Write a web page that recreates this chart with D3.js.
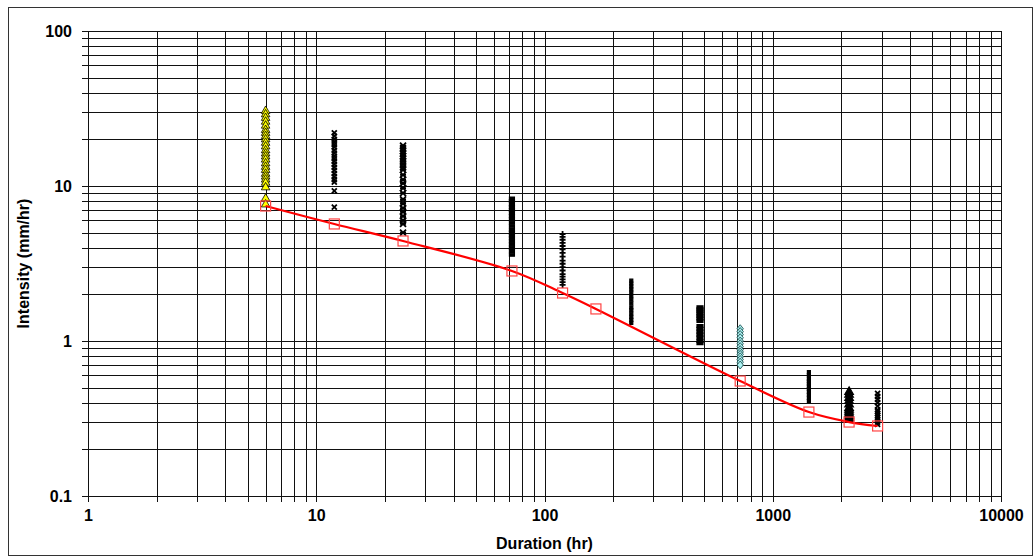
<!DOCTYPE html>
<html>
<head>
<meta charset="utf-8">
<script src="https://cdn.jsdelivr.net/npm/d3@7"></script>
<style>
  html, body { margin: 0; padding: 0; background: #fff; }
  svg { display: block; }
  text { font-family: "Liberation Sans", Arial, sans-serif; font-weight: bold; }
</style>
</head>
<body>
<svg id="chart" width="1034" height="556"></svg>
<script>
// Observed storm intensities (mm/hr) grouped by duration (hr)
const obs6    = [30.5, 29, 27.5, 26, 24.5, 23, 22, 21, 20, 19, 18, 17, 16.2, 15.5, 14.8, 14, 13.3, 12.7, 12, 11.5, 11, 10.5, 9.8, 8.3, 7.6];
const obs12   = [22, 21, 20, 19.2, 18.5, 17.8, 17, 16.3, 15.6, 15, 14.4, 13.8, 13.2, 12.6, 12, 11.5, 11, 10.6, 9.3, 7.3];
const obs24   = [18.2, 17.5, 16.8, 16.2, 15.6, 15, 14.4, 13.8, 13.2, 12.7, 11.8, 11, 10.4, 9.7, 9.0, 8.2, 7.7, 7.2, 6.8, 6.4, 6.0, 5.7, 5.0];
const obs72   = [8.3, 8.0, 7.6, 7.3, 7.0, 6.7, 6.4, 6.1, 5.8, 5.5, 5.2, 5.0, 4.8, 4.6, 4.4, 4.2, 4.0, 3.8, 3.6];
const obs120  = [4.9, 4.7, 4.5, 4.3, 4.1, 3.9, 3.7, 3.5, 3.3, 3.15, 3.0, 2.85, 2.7, 2.6, 2.5, 2.4, 2.3];
const obs240  = [2.45, 2.35, 2.25, 2.15, 2.05, 1.95, 1.85, 1.75, 1.65, 1.58, 1.5, 1.43, 1.37, 1.31];
const obs480  = [1.65, 1.6, 1.55, 1.5, 1.45, 1.4, 1.35, 1.25, 1.2, 1.15, 1.1, 1.05, 1.0, 0.97];
const obs720  = [1.2, 1.15, 1.1, 1.05, 1.0, 0.96, 0.92, 0.88, 0.85, 0.82, 0.79, 0.76, 0.73, 0.7];
const obs1440 = [0.63, 0.6, 0.57, 0.55, 0.53, 0.51, 0.49, 0.47, 0.45, 0.43, 0.41];
const obs2160 = [0.47, 0.45, 0.43, 0.41, 0.39, 0.37, 0.36, 0.35, 0.34, 0.33, 0.32, 0.31];
const obs2880 = [0.46, 0.44, 0.42, 0.40, 0.38, 0.36, 0.35, 0.34, 0.33, 0.32, 0.31, 0.30, 0.29];

// Fitted intensity-duration curve
const fitDuration  = [6, 12, 24, 72, 120, 168, 720, 1440, 2160, 2880];
const fitIntensity = [7.43, 5.69, 4.42, 2.83, 2.04, 1.61, 0.552, 0.348, 0.30, 0.283];

// Axis labels
const xTickLabels = [1, 10, 100, 1000, 10000];
const yTickLabels = [0.1, 1, 10, 100];

// Marker styling per duration group
const groups = [
  { d: 6,    v: obs6,    shape: "triangle", fill: "#ffff00", stroke: "#000", sw: 0.8 },
  { d: 12,   v: obs12,   shape: "x",        fill: "none",    stroke: "#000", sw: 1.8 },
  { d: 24,   v: obs24,   shape: "star",     fill: "none",    stroke: "#000", sw: 1.8 },
  { d: 72,   v: obs72,   shape: "dash",     fill: "#000",    stroke: "#000", sw: 1.2, w: 5 },
  { d: 120,  v: obs120,  shape: "plus",     fill: "none",    stroke: "#000", sw: 1.8 },
  { d: 240,  v: obs240,  shape: "dash",     fill: "#000",    stroke: "#000", sw: 1.2, w: 3 },
  { d: 480,  v: obs480,  shape: "dash",     fill: "#000",    stroke: "#000", sw: 1.2, w: 6 },
  { d: 720,  v: obs720,  shape: "diamond",  fill: "#aef3f3", stroke: "#336666", sw: 1 },
  { d: 1440, v: obs1440, shape: "dash",     fill: "#000",    stroke: "#000", sw: 1.2, w: 3 },
  { d: 2160, v: obs2160, shape: "triangle", fill: "#000",    stroke: "#000", sw: 1.2 },
  { d: 2880, v: obs2880, shape: "x",        fill: "none",    stroke: "#000", sw: 1.8 }
];

const svg = d3.select("#chart");
const W = 1034, H = 556;
const plot = { left: 88, right: 1001, top: 31, bottom: 496 };

// Outer chart frame
svg.append("rect")
  .attr("x", 8.5).attr("y", 7.5)
  .attr("width", W - 10).attr("height", H - 8)
  .attr("fill", "#fff").attr("stroke", "#333").attr("stroke-width", 1);

const x = d3.scaleLog().domain([1, 10000]).range([plot.left, plot.right]);
const y = d3.scaleLog().domain([0.1, 100]).range([plot.bottom, plot.top]);

const xAll = x.ticks();
const yAll = y.ticks();
const snap = v => Math.round(v) + 0.5;

// Gridlines (major and minor) with short tick stubs outside the plot
const grid = svg.append("g").attr("shape-rendering", "crispEdges").attr("stroke", "#111").attr("stroke-width", 1);
grid.selectAll(".gx").data(xAll).join("line")
  .attr("x1", d => snap(x(d))).attr("x2", d => snap(x(d)))
  .attr("y1", plot.top).attr("y2", plot.bottom + 6);
grid.selectAll(".gy").data(yAll).join("line")
  .attr("y1", d => snap(y(d))).attr("y2", d => snap(y(d)))
  .attr("x1", plot.left - 6).attr("x2", plot.right);

// Axes: tick labels only at decades
const xAxis = d3.axisBottom(x).tickValues(xTickLabels).tickSize(0).tickPadding(14)
  .tickFormat(d3.format("d"));
const gx = svg.append("g").attr("transform", `translate(0,${plot.bottom})`).call(xAxis);
gx.select(".domain").remove();
gx.selectAll("text").attr("font-size", 16).attr("fill", "#000")
  .style("font-family", "'Liberation Sans', Arial, sans-serif").style("font-weight", "bold");

const yAxis = d3.axisLeft(y).tickValues(yTickLabels).tickSize(0).tickPadding(16)
  .tickFormat(d => d < 1 ? d3.format(".1f")(d) : d3.format("d")(d));
const gy = svg.append("g").attr("transform", `translate(${plot.left},0)`).call(yAxis);
gy.select(".domain").remove();
gy.selectAll("text").attr("font-size", 16).attr("fill", "#000")
  .style("font-family", "'Liberation Sans', Arial, sans-serif").style("font-weight", "bold");

// Axis titles
svg.append("text")
  .attr("x", (plot.left + plot.right) / 2).attr("y", 549)
  .attr("text-anchor", "middle").attr("font-size", 16).attr("fill", "#000")
  .text("Duration (hr)");
svg.append("text")
  .attr("transform", `translate(29,${(plot.top + plot.bottom) / 2}) rotate(-90)`)
  .attr("text-anchor", "middle").attr("font-size", 16).attr("fill", "#000")
  .text("Intensity (mm/hr)");

// Marker path generators
function markerPath(shape, w) {
  switch (shape) {
    case "triangle": return d3.symbol(d3.symbolTriangle, 32)();
    case "diamond":  return "M0,-4L3.2,0L0,4L-3.2,0Z";
    case "x":        return "M-2.5,-2.5L2.5,2.5M-2.5,2.5L2.5,-2.5";
    case "plus":     return "M-3,0L3,0M0,-3L0,3";
    case "star":     return "M-3,-3L3,3M-3,3L3,-3M-3,0L3,0";
    case "dash":     return `M${-w / 2},-1.5h${w}v3h${-w}Z`;
  }
}

const pts = svg.append("g");
groups.forEach(g => {
  pts.append("g").selectAll("path").data(g.v).join("path")
    .attr("transform", v => `translate(${x(g.d)},${y(v)})`)
    .attr("d", markerPath(g.shape, g.w))
    .attr("fill", g.fill)
    .attr("stroke", g.stroke)
    .attr("stroke-width", g.sw);
});

// Fitted curve
const fit = fitDuration.map((d, i) => [d, fitIntensity[i]]);
const line = d3.line().x(d => x(d[0])).y(d => y(d[1])).curve(d3.curveCatmullRom.alpha(0.5));
svg.append("path").datum(fit)
  .attr("d", line).attr("fill", "none").attr("stroke", "#ff0000").attr("stroke-width", 2.2);
svg.append("g").selectAll("rect").data(fit).join("rect")
  .attr("x", d => x(d[0]) - 5).attr("y", d => y(d[1]) - 5)
  .attr("width", 10).attr("height", 10)
  .attr("fill", "none").attr("stroke", "#ff4444").attr("stroke-width", 1.2);
</script>
</body>
</html>
